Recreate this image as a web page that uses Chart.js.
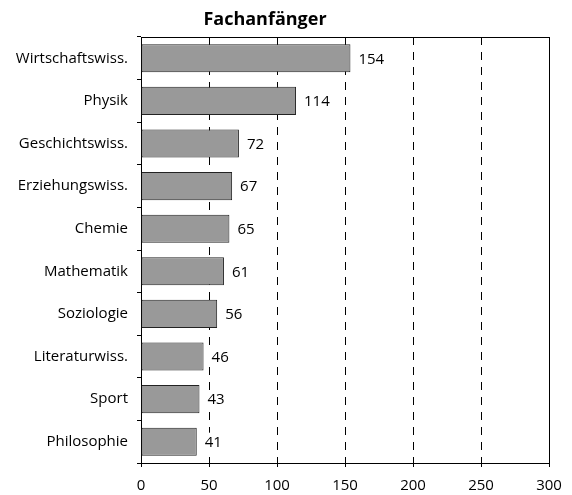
<!DOCTYPE html>
<html>
<head>
<meta charset="utf-8">
<script src="https://cdn.jsdelivr.net/npm/chart.js@4"></script>
<style>
    html, body { margin: 0; padding: 0; background: #fff; }
    #wrap { width: 572px; height: 495px; }
</style>
</head>
<body>
<div id="wrap"><canvas id="fach" width="572" height="495"></canvas></div>
<script>
const titel = 'Fachanfänger';
const faecher = ['Wirtschaftswiss.', 'Physik', 'Geschichtswiss.', 'Erziehungswiss.', 'Chemie',
    'Mathematik', 'Soziologie', 'Literaturwiss.', 'Sport', 'Philosophie'];
const anfaenger = [154, 114, 72, 67, 65, 61, 56, 46, 43, 41];
const xTicks = [0, 50, 100, 150, 200, 250, 300];

const schrift = "'Open Sans', 'DejaVu Sans', sans-serif";

// Titel, Werte neben den Balken und Rahmen oben/rechts
const extrasPlugin = {
    id: 'extras',
    beforeDatasetsDraw(chart) {
        const ctx = chart.ctx;
        const area = chart.chartArea;
        const xs = chart.scales.x;
        const top = Math.round(area.top) + 0.5;
        const bottom = Math.round(area.bottom) + 0.5;
        const right = Math.round(xs.getPixelForValue(xTicks[xTicks.length - 1])) + 0.5;
        ctx.save();
        ctx.strokeStyle = '#000';
        ctx.lineWidth = 1;
        ctx.beginPath();
        // oberer Rahmen mit Strichen nach innen
        ctx.moveTo(area.left, top);
        ctx.lineTo(right, top);
        xTicks.forEach(v => {
            const x = Math.round(xs.getPixelForValue(v)) + 0.5;
            ctx.moveTo(x, top);
            ctx.lineTo(x, top + 4);
            // Striche unten auch nach innen
            ctx.moveTo(x, bottom);
            ctx.lineTo(x, bottom - 6);
        });
        // rechter Rahmen durchgezogen
        ctx.moveTo(right, area.top);
        ctx.lineTo(right, area.bottom);
        ctx.stroke();
        ctx.restore();
    },
    afterDatasetsDraw(chart) {
        const ctx = chart.ctx;
        const meta = chart.getDatasetMeta(0);
        ctx.save();
        ctx.font = '15px ' + schrift;
        ctx.textBaseline = 'middle';
        ctx.textAlign = 'left';
        meta.data.forEach((bar, i) => {
            const txt = String(anfaenger[i]);
            const x = bar.x + 8;
            const w = ctx.measureText(txt).width;
            // weisser Kasten hinter der Zahl, verdeckt die Gitterlinie
            ctx.fillStyle = '#fff';
            ctx.fillRect(x - 4, bar.y - 9, w + 7, 18);
            ctx.fillStyle = '#000';
            ctx.fillText(txt, x, bar.y + 1);
        });
        ctx.fillStyle = '#000';
        ctx.font = 'bold 18px ' + schrift;
        ctx.textAlign = 'center';
        ctx.textBaseline = 'alphabetic';
        ctx.fillText(titel, 265, 25);
        ctx.restore();
    }
};

new Chart(document.getElementById('fach'), {
    type: 'bar',
    data: {
        labels: faecher,
        datasets: [{
            label: titel,
            data: anfaenger,
            backgroundColor: '#999999',
            borderColor: '#222222',
            borderWidth: 1,
            borderSkipped: false,
            categoryPercentage: 1,
            barPercentage: 0.66
        }]
    },
    options: {
        indexAxis: 'y',
        responsive: false,
        animation: false,
        layout: { padding: { left: 0, right: 23, top: 37, bottom: 0 } },
        plugins: {
            legend: { display: false },
            tooltip: { enabled: false },
            title: { display: false }
        },
        scales: {
            x: {
                min: 0,
                max: 300,
                afterBuildTicks: (axis) => { axis.ticks = xTicks.map(v => ({ value: v })); },
                afterFit: (scale) => { scale.height = 32; },
                grid: {
                    color: '#000',
                    lineWidth: 1,
                    tickLength: 4
                },
                border: { display: true, color: '#000', width: 1, dash: [8, 7] },
                ticks: {
                    color: '#000',
                    font: { family: schrift, size: 15 },
                    padding: 10,
                    maxRotation: 0
                }
            },
            y: {
                afterFit: (scale) => { scale.width = 141; },
                grid: {
                    drawOnChartArea: false,
                    color: '#000',
                    tickLength: 4,
                    offset: true
                },
                border: { display: true, color: '#000', width: 1 },
                ticks: {
                    color: '#000',
                    font: { family: schrift, size: 15 },
                    padding: 9
                }
            }
        }
    },
    plugins: [extrasPlugin]
});
</script>
</body>
</html>
